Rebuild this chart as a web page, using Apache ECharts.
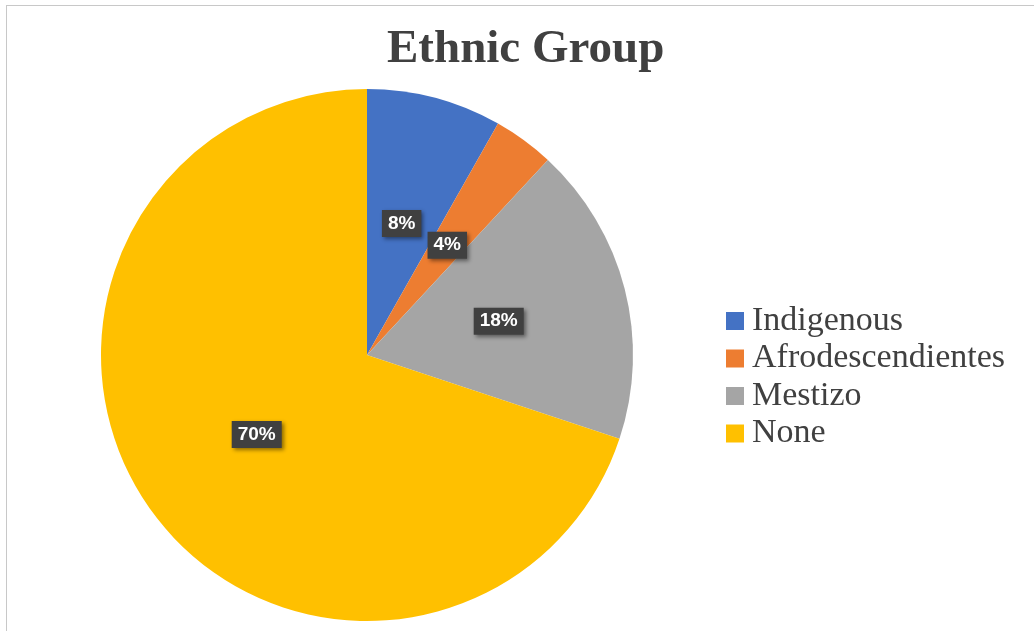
<!DOCTYPE html>
<html>
<head>
<meta charset="utf-8">
<script src="https://cdn.jsdelivr.net/npm/echarts@6/dist/echarts.min.js"></script>
<style>
html,body{margin:0;padding:0;background:#fff;}
#frame{position:absolute;left:6px;top:5px;width:1040px;height:640px;border-left:1px solid #c8c8c8;border-top:1px solid #c8c8c8;}
#chart{position:absolute;left:0;top:0;width:1034px;height:631px;}
</style>
</head>
<body>
<div id="frame"></div>
<div id="chart"></div>
<script>
const title = 'Ethnic Group';
const categories = ['Indigenous', 'Afrodescendientes', 'Mestizo', 'None'];
const values = [8.2, 3.7, 18.2, 69.9];
const colors = ['#4472C4', '#ED7D31', '#A5A5A5', '#FFC000'];

const chart = echarts.init(document.getElementById('chart'), null, {renderer: 'canvas'});
chart.setOption({
  backgroundColor: 'transparent',
  animation: false,
  color: colors,
  title: {
    text: title,
    left: 382, top: 21,
    textStyle: {fontFamily: 'Liberation Serif', fontWeight: 'bold', fontSize: 47, color: '#404040'}
  },
  legend: {
    orient: 'vertical',
    left: 726, top: 304,
    padding: 0,
    itemWidth: 18, itemHeight: 18, itemGap: 3.5,
    icon: 'rect',
    textStyle: {fontFamily: 'Liberation Serif', fontSize: 34, color: '#404040', padding: [0,0,0,3]},
    data: categories
  },
  series: [{
    type: 'pie',
    center: [367, 355],
    radius: 266,
    startAngle: 90,
    clockwise: true,
    data: categories.map((c, i) => ({name: c, value: values[i]})),
    itemStyle: {borderWidth: 0},
    label: {
      position: 'inside',
      formatter: p => Math.round(p.percent) + '%',
      fontFamily: 'Liberation Sans', fontWeight: 'bold', fontSize: 19, color: '#fff',
      backgroundColor: '#404040', padding: [5, 6, 3, 6],
      shadowColor: 'rgba(0,0,0,0.45)', shadowBlur: 4, shadowOffsetX: 2, shadowOffsetY: 2
    },
    labelLine: {show: false},
    emphasis: {disabled: true}
  }]
});
</script>
</body>
</html>
